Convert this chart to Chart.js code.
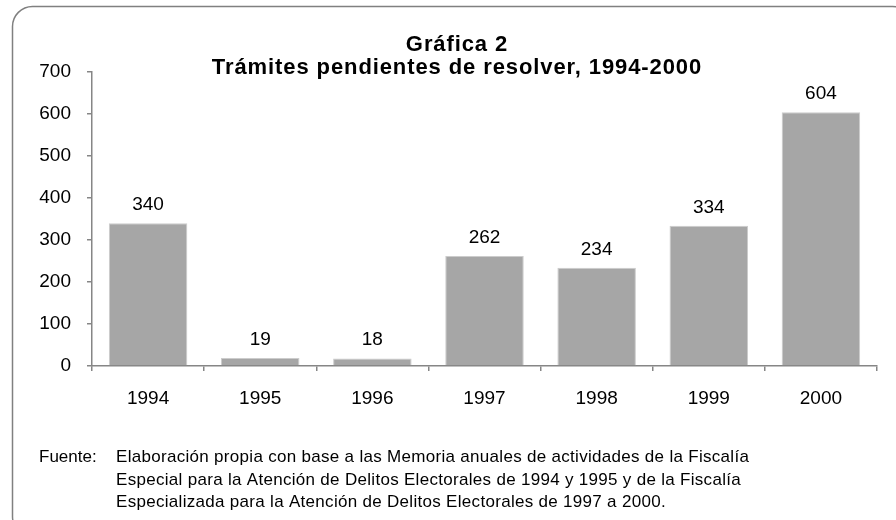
<!DOCTYPE html>
<html>
<head>
<meta charset="utf-8">
<script src="https://cdn.jsdelivr.net/npm/chart.js@4.4.1/dist/chart.umd.min.js"></script>
<style>
  html, body { margin: 0; padding: 0; background: #ffffff; }
  #wrap { position: relative; width: 896px; height: 520px; }
</style>
</head>
<body>
<div id="wrap"><canvas id="c" width="896" height="520"></canvas></div>
<script>
// ---- data ----
const categories = ['1994', '1995', '1996', '1997', '1998', '1999', '2000'];
const values = [340, 19, 18, 262, 234, 334, 604];
const yTickValues = [0, 100, 200, 300, 400, 500, 600, 700];
const titleLines = ['Gráfica 2', 'Trámites pendientes de resolver, 1994-2000'];
const sourceLabel = 'Fuente:';
const sourceLines = [
  'Elaboración propia con base a las Memoria anuales de actividades de la Fiscalía',
  'Especial para la Atención de Delitos Electorales de 1994 y 1995 y de la Fiscalía',
  'Especializada para la Atención de Delitos Electorales de 1997 a 2000.'
];

const FONT = '"Liberation Sans", Arial, sans-serif';
const AXIS_COLOR = '#868686';

const decorPlugin = {
  id: 'decor',
  beforeDraw(chart) {
    const ctx = chart.ctx;
    ctx.save();
    ctx.fillStyle = '#ffffff';
    ctx.fillRect(0, 0, chart.width, chart.height);
    ctx.strokeStyle = '#808080';
    ctx.lineWidth = 1.5;
    ctx.beginPath();
    ctx.roundRect(12.5, 6.5, 900, 530, 20);
    ctx.stroke();
    ctx.restore();
  },
  afterDraw(chart) {
    const ctx = chart.ctx;
    ctx.save();
    // title
    ctx.fillStyle = '#000000';
    ctx.textAlign = 'center';
    ctx.textBaseline = 'alphabetic';
    ctx.font = 'bold 22px ' + FONT;
    ctx.letterSpacing = '0.9px';
    const tx = 457;
    ctx.fillText(titleLines[0], tx, 51);
    ctx.fillText(titleLines[1], tx, 74);
    // data labels
    ctx.letterSpacing = '0px';
    ctx.font = '19px ' + FONT;
    const meta = chart.getDatasetMeta(0);
    meta.data.forEach((bar, i) => {
      ctx.fillText(String(values[i]), bar.x, bar.y - 13);
    });
    // source note
    ctx.font = '17px ' + FONT;
    ctx.textAlign = 'left';
    ctx.fillText(sourceLabel, 39, 462);
    ctx.letterSpacing = '0.3px';
    const baselines = [462, 484.5, 507];
    sourceLines.forEach((line, i) => {
      ctx.fillText(line, 116, baselines[i]);
    });
    ctx.restore();
  }
};

new Chart(document.getElementById('c'), {
  type: 'bar',
  data: {
    labels: categories,
    datasets: [{
      data: values,
      backgroundColor: '#a6a6a6',
      borderColor: '#cccccc',
      borderWidth: 1,
      categoryPercentage: 1.0,
      barPercentage: 0.7
    }]
  },
  options: {
    responsive: false,
    animation: false,
    events: [],
    layout: { padding: { left: 0, right: 19, top: 72, bottom: 74 } },
    plugins: {
      legend: { display: false },
      title: { display: false },
      tooltip: { enabled: false }
    },
    scales: {
      x: {
        offset: true,
        grid: {
          offset: true,
          drawOnChartArea: false,
          drawTicks: true,
          tickLength: 5,
          color: AXIS_COLOR,
          lineWidth: 1.5
        },
        border: { display: true, color: AXIS_COLOR, width: 1.5 },
        ticks: {
          color: '#000000',
          font: { family: FONT, size: 19 },
          padding: 16
        },
        afterFit(scale) { scale.height = 80; }
      },
      y: {
        min: 0,
        max: 700,
        afterBuildTicks(scale) { scale.ticks = yTickValues.map(v => ({ value: v })); },
        grid: {
          drawOnChartArea: false,
          drawTicks: true,
          tickLength: 5,
          color: AXIS_COLOR,
          lineWidth: 1.5
        },
        border: { display: true, color: AXIS_COLOR, width: 1.5 },
        ticks: {
          color: '#000000',
          font: { family: FONT, size: 19 },
          padding: 16
        },
        afterFit(scale) { scale.width = 92; }
      }
    }
  },
  plugins: [decorPlugin]
});
</script>
</body>
</html>
